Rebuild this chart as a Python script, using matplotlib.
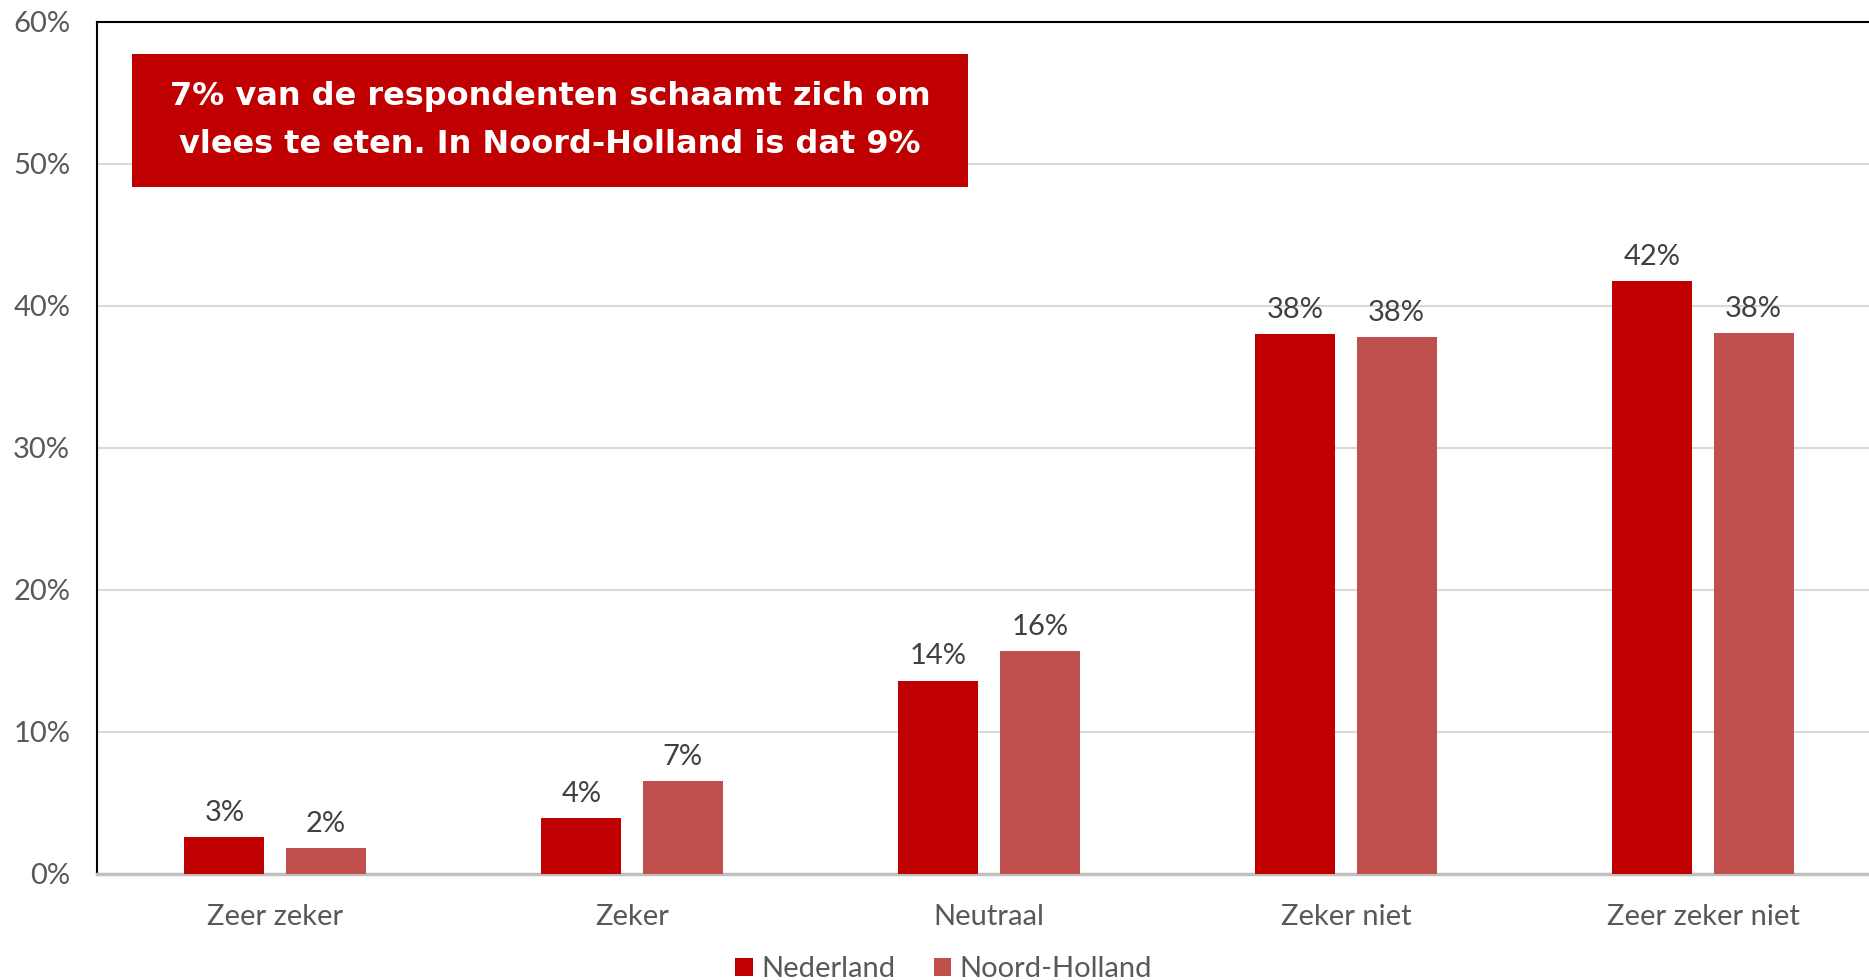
import matplotlib
matplotlib.use("Agg")
import matplotlib.pyplot as plt
import numpy as np
from matplotlib.patches import Rectangle

categories = ["Zeer zeker", "Zeker", "Neutraal", "Zeker niet", "Zeer zeker niet"]
nederland = [2.6, 3.9, 13.6, 38.0, 41.7]
noord_holland = [1.8, 6.5, 15.7, 37.8, 38.1]
labels_nl = ["3%", "4%", "14%", "38%", "42%"]
labels_nh = ["2%", "7%", "16%", "38%", "38%"]
series_names = ["Nederland", "Noord-Holland"]
callout = "7% van de respondenten schaamt zich om\nvlees te eten. In Noord-Holland is dat 9%"

plt.rcParams['font.family'] = ['Lato', 'DejaVu Sans']
grey = '#595959'
fs = 21

fig = plt.figure(figsize=(18.69, 9.8), dpi=100)
ax = fig.add_axes([0.0517, 0.1084, 1 - 0.0517, 0.978 - 0.1084])

x = np.arange(len(categories))
w = 0.224
off = 0.142
b1 = ax.bar(x - off, nederland, w, color='#C00000', label=series_names[0], zorder=3)
b2 = ax.bar(x + off, noord_holland, w, color='#C0504D', label=series_names[1], zorder=3)

for bars, labs in ((b1, labels_nl), (b2, labels_nh)):
    for r, t in zip(bars, labs):
        ax.annotate(t, (r.get_x() + r.get_width() / 2, r.get_height()),
                    xytext=(0, 8), textcoords='offset points', ha='center', va='bottom',
                    fontsize=fs, color='#404040')

ax.set_xlim(-0.5, 4.465)
ax.set_ylim(0, 60)
ax.set_yticks(range(0, 61, 10))
ax.set_yticklabels([f"{v}%" for v in range(0, 61, 10)])
ax.set_xticks(x)
ax.set_xticklabels(categories)
ax.tick_params(axis='both', length=0, labelsize=fs, labelcolor=grey)
ax.tick_params(axis='y', pad=19)
ax.tick_params(axis='x', pad=22)
ax.yaxis.grid(True, color='#d9d9d9', linewidth=1.5, zorder=0)
ax.set_axisbelow(True)

for s in ['left', 'top']:
    ax.spines[s].set_color('black')
    ax.spines[s].set_linewidth(1.5)
ax.spines['right'].set_visible(False)
ax.spines['bottom'].set_color('#bfbfbf')
ax.spines['bottom'].set_linewidth(2.5)

ax.add_patch(Rectangle((0.020, 0.8057), 0.4717, 0.1566, transform=ax.transAxes,
                       facecolor='#C00000', edgecolor='none', zorder=5))
ax.text(0.2558, 0.884, callout, transform=ax.transAxes, ha='center', va='center',
        fontsize=23, fontweight='bold', color='white', family=['DejaVu Sans'],
        linespacing=1.7, zorder=6)

leg = fig.legend(handles=[b1, b2], labels=series_names, loc='lower center',
                 bbox_to_anchor=(0.505, -0.029), ncol=2, frameon=False,
                 fontsize=fs, handlelength=0.6, handleheight=0.6, handletextpad=0.3,
                 columnspacing=1.3)
for t in leg.get_texts():
    t.set_color(grey)

fig.savefig('out.png', dpi=100)
